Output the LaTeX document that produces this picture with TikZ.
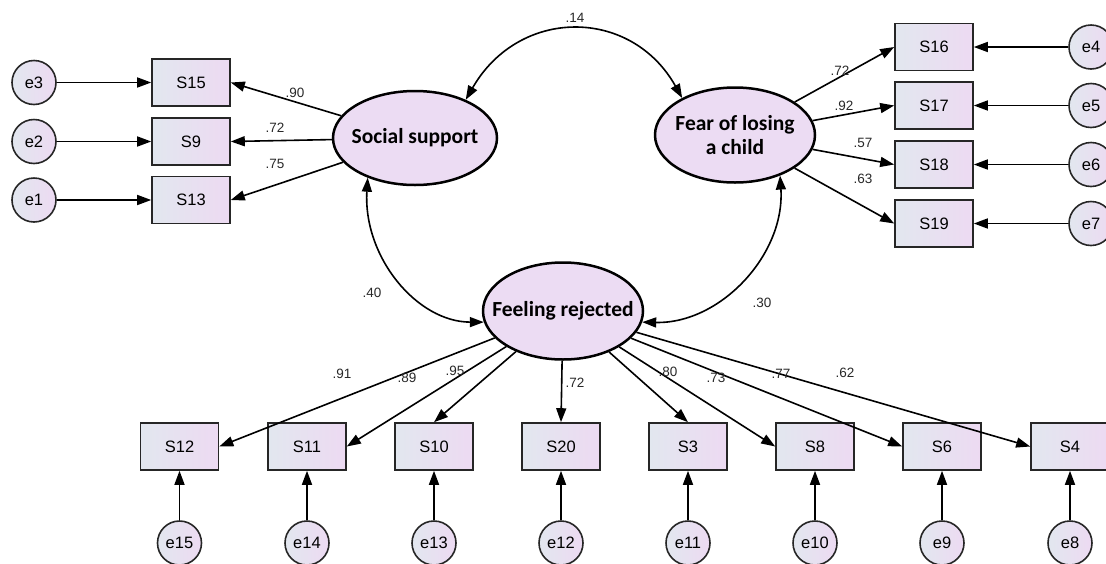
\documentclass[tikz,border=0pt]{standalone}
\usepackage{fontspec}
\setmainfont{Liberation Sans}
\newfontfamily\latfont{Carlito}
\usetikzlibrary{arrows.meta,shapes.geometric}
\definecolor{boxL}{RGB}{226,231,239}
\definecolor{boxR}{RGB}{237,218,242}
\definecolor{latfill}{RGB}{236,220,243}
\definecolor{coefcol}{RGB}{40,40,40}
\tikzset{
  obs/.style={draw=black!85, line width=1.6pt, minimum width=78pt, minimum height=47pt, inner sep=0pt,
    left color=boxL, right color=boxR, font=\fontsize{16.5}{19}\selectfont},
  err/.style={circle, draw=black!85, line width=1.6pt, minimum size=44pt, inner sep=0pt,
    shading=axis, shading angle=-45, left color=boxL, right color=boxR, font=\fontsize{16.5}{19}\selectfont},
  lat/.style={ellipse, draw=black, line width=2.5pt, fill=latfill, inner xsep=-25pt, inner ysep=-8pt, align=center,
    font=\latfont\bfseries\fontsize{21.5}{24}\selectfont},
  ld/.style={line width=1.6pt, -{Triangle[length=14pt,width=10pt]}},
  cov/.style={line width=1.6pt, {Triangle[length=14pt,width=10pt]}-{Triangle[length=14pt,width=10pt]}},
  coef/.style={font=\fontsize{13.5}{15}\selectfont, text=coefcol, inner sep=0pt}
}
\begin{document}
\begin{tikzpicture}[x=1pt,y=-1pt]
\useasboundingbox (0,0) rectangle (1106,563);
\clip (0,0) rectangle (1106,563);
% latent variables
\node[lat, minimum width=164pt, minimum height=94pt] (ss) at (415,138) {Social support};
\node[lat, minimum width=160pt, minimum height=95pt] (fl) at (735,135) {Fear of losing\\a child};
\node[lat, minimum width=160pt, minimum height=97pt] (fr) at (563,311) {Feeling rejected};
% left observed
\node[obs] (s15) at (191,82.5) {S15};
\node[obs] (s9) at (191,141.5) {S9};
\node[obs] (s13) at (191,200) {S13};
\node[err] (e3) at (34,82.5) {e3};
\node[err] (e2) at (34,141.5) {e2};
\node[err] (e1) at (34,200) {e1};
% right observed
\node[obs] (s16) at (934,47) {S16};
\node[obs] (s17) at (934,105.5) {S17};
\node[obs] (s18) at (934,164.5) {S18};
\node[obs] (s19) at (934,223.5) {S19};
\node[err] (e4) at (1091,47) {e4};
\node[err] (e5) at (1091,105.5) {e5};
\node[err] (e6) at (1091,164.5) {e6};
\node[err] (e7) at (1091,223.5) {e7};
% bottom observed
\node[obs] (s12) at (179.5,446.5) {S12};
\node[obs] (s11) at (307,446.5) {S11};
\node[obs] (s10) at (434,446.5) {S10};
\node[obs] (s20) at (561,446.5) {S20};
\node[obs] (s3) at (688,446.5) {S3};
\node[obs] (s8) at (815,446.5) {S8};
\node[obs] (s6) at (942,446.5) {S6};
\node[obs] (s4) at (1070,446.5) {S4};
\node[err] (e15) at (179.5,543) {e15};
\node[err] (e14) at (307,543) {e14};
\node[err] (e13) at (434,543) {e13};
\node[err] (e12) at (561,543) {e12};
\node[err] (e11) at (688,543) {e11};
\node[err] (e10) at (815,543) {e10};
\node[err] (e9) at (942,543) {e9};
\node[err] (e8) at (1070,543) {e8};
% error arrows
\foreach \e/\s in {e3/s15,e2/s9,e1/s13,e4/s16,e5/s17,e6/s18,e7/s19,e15/s12,e14/s11,e13/s10,e12/s20,e11/s3,e10/s8,e9/s6,e8/s4}
  \draw[ld] (\e) -- (\s);
% loadings
\draw[ld] (ss) -- (s15.east);
\draw[ld] (ss) -- (s9.east);
\draw[ld] (ss) -- (s13.east);
\draw[ld] (fl) -- (s16.west);
\draw[ld] (fl) -- (s17.west);
\draw[ld] (fl) -- (s18.west);
\draw[ld] (fl) -- (s19.west);
\draw[ld] (fr) -- (s12.east);
\draw[ld] (fr) -- (s11.east);
\draw[ld] (fr) -- (s10.north);
\draw[ld] (fr) -- (s20.north);
\draw[ld] (fr) -- (s3.north);
\draw[ld] (fr) -- (s8.west);
\draw[ld] (fr) -- (s6.west);
\draw[ld] (fr) -- (s4.west);
% covariances
\draw[cov] (ss.37) .. controls (519,7) and (631,7) .. (fl.145);
\draw[cov] (ss.220) .. controls (363,257) and (417,322) .. (fr.188);
\draw[cov] (fl.318) .. controls (785,255) and (720,324) .. (fr.352);
% coefficient labels
\node[coef] (c14) at (575,18) {.14};
\node[coef] (c40) at (372,293) {.40};
\node[coef] (c30) at (762,303) {.30};
\node[coef] (c90) at (295,93) {.90};
\node[coef] (c72a) at (275,128) {.72};
\node[coef] (c75) at (275,164) {.75};
\node[coef] (c72b) at (840,71) {.72};
\node[coef] (c92) at (844,106) {.92};
\node[coef] (c57) at (863,143) {.57};
\node[coef] (c63) at (863,179) {.63};
\node[coef] (c91) at (342,374) {.91};
\node[coef] (c89) at (407,378) {.89};
\node[coef] (c95) at (455,371) {.95};
\node[coef] (c72c) at (575,383) {.72};
\node[coef] (c80) at (668,372) {.80};
\node[coef] (c73) at (716,378) {.73};
\node[coef] (c77) at (781,374) {.77};
\node[coef] (c62) at (845,373) {.62};
\end{tikzpicture}
\end{document}
